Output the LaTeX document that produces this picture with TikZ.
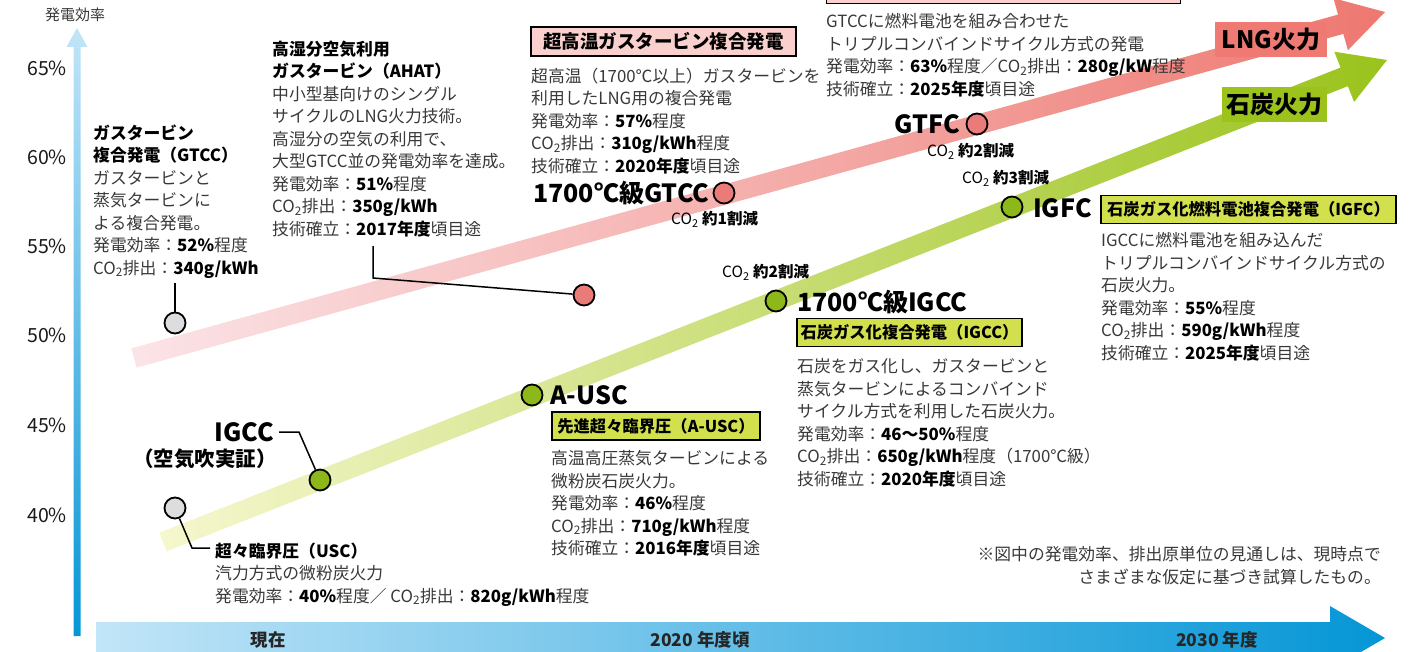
\documentclass[tikz,border=0pt]{standalone}
\usepackage{fontspec}
\setmainfont{Noto Sans CJK JP}
\definecolor{txt}{HTML}{383838}
\definecolor{lngL}{HTML}{FBE4E7}
\definecolor{lngR}{HTML}{EE7870}
\definecolor{coalL}{HTML}{F6F7CE}
\definecolor{coalR}{HTML}{9AC31C}
\definecolor{axL}{HTML}{C2E5F8}
\definecolor{axR}{HTML}{0596D6}
\definecolor{pinkbox}{HTML}{F9D0CD}
\definecolor{greenbox}{HTML}{D2E04E}
\definecolor{lngbox}{HTML}{EE7A73}
\definecolor{coalbox}{HTML}{9CC31B}
\definecolor{pinkdot}{HTML}{EB7B78}
\definecolor{greendot}{HTML}{8CB81A}
\definecolor{greydot}{HTML}{DCDDDE}
\newcommand{\bv}[1]{\textbf{\textcolor{black}{#1}}}
\newcommand{\COtwo}{CO\textsubscript{2}}
\begin{document}
\begin{tikzpicture}[x=1pt,y=-1pt,
  body/.style={font=\fontsize{16.8}{22.5}\selectfont, text=txt, align=left, inner sep=0pt, anchor=north west},
  ttl/.style={font=\bfseries\fontsize{25}{27}\selectfont, inner sep=0pt, text=black},
  co/.style={font=\fontsize{15.5}{17}\selectfont, inner sep=0pt, anchor=west, text=black},
  pbox/.style={draw=black, line width=1.3pt, fill=pinkbox, inner sep=0pt, minimum height=29pt, font=\bfseries\fontsize{18.5}{20}\selectfont},
  gbox/.style={draw=black, line width=1.3pt, fill=greenbox, inner sep=0pt, minimum height=28pt, font=\bfseries\fontsize{16.3}{18}\selectfont},
  dot/.style={circle, draw=black, line width=1.8pt, minimum size=21pt, inner sep=0pt},
  conn/.style={draw=black, line width=1.5pt},
  pct/.style={font=\fontsize{19.5}{21}\selectfont, inner sep=0pt, anchor=east, text=black!90},
  axlab/.style={font=\bfseries\fontsize{17.5}{19}\selectfont, inner sep=0pt, text=black!85},
  bandlab/.style={inner sep=0pt, minimum height=35pt, font=\bfseries\fontsize{24}{26}\selectfont, text=black}
]
\useasboundingbox (0,0) rectangle (1420,652);
\clip (0,0) rectangle (1420,652);

% axes
\shade[top color=axL, bottom color=axR] (73.5,636) -- (73.5,47) -- (66.5,47) -- (77,28) -- (87.5,47) -- (80.5,47) -- (80.5,636) -- cycle;
\shade[left color=axL, right color=axR] (96,622) -- (1330,622) -- (1330,606) -- (1385,638) -- (1330,670) -- (1330,654) -- (96,654) -- cycle;
\node[font=\fontsize{15}{17}\selectfont, text=txt, inner sep=0pt] (ylab) at (75,15) {発電効率};
\node[pct] (p65) at (67,68) {65\%};
\node[pct] (p60) at (67,157) {60\%};
\node[pct] (p55) at (67,246) {55\%};
\node[pct] (p50) at (67,335) {50\%};
\node[pct] (p45) at (67,425) {45\%};
\node[pct] (p40) at (67,515) {40\%};
\node[axlab] (x1) at (268,640) {現在};
\node[axlab] (x2) at (700,640) {2020 年度頃};
\node[axlab] (x3) at (1217,640) {2030 年度};

% bands
\shade[left color=lngL, right color=lngR] (131.33,348.36) -- (1338.0,14.62) -- (1333.47,-1.76) -- (1385,12) -- (1347.87,50.28) -- (1343.34,33.90) -- (136.67,367.64) -- cycle;
\shade[left color=coalL, right color=coalR] (159.34,532.70) -- (1340.54,67.55) -- (1334.31,51.73) -- (1387,60) -- (1354.09,101.97) -- (1347.86,86.16) -- (166.66,551.31) -- cycle;
\node[bandlab, fill=lngbox, minimum width=112pt] (lng) at (1271,39.5) {LNG火力};
\node[bandlab, fill=coalbox, minimum width=105pt] (coal) at (1274.5,104.5) {石炭火力};

% dots
\node[dot, fill=greydot] (c-gtcc) at (175,323) {};
\node[dot, fill=pinkdot] (c-ahat) at (584,295) {};
\node[dot, fill=pinkdot] (c-gtcc17) at (724,193) {};
\node[dot, fill=pinkdot] (c-gtfc) at (977,124) {};
\node[dot, fill=greydot] (c-usc) at (175,508) {};
\node[dot, fill=greendot] (c-igcc) at (320,480) {};
\node[dot, fill=greendot] (c-ausc) at (532,395) {};
\node[dot, fill=greendot] (c-igcc17) at (776,301) {};
\node[dot, fill=greendot] (c-igfc) at (1012,207) {};

% connectors
\coordinate (g1) at (175,283);
\draw[conn] (g1) -- (c-gtcc);
\coordinate (a1) at (373,246);
\coordinate (a2) at (373,278);
\draw[conn] (a1) -- (a2) -- (c-ahat);
\coordinate (u1) at (192,548);
\coordinate (u2) at (210,548);
\draw[conn] (c-usc) -- (u1) -- (u2);
\coordinate (i1) at (279,432);
\coordinate (i2) at (299,432);
\draw[conn] (i1) -- (i2) -- (c-igcc);

% GTCC
\node[body] (t-gtcc) at (93,124.5) {\bv{ガスタービン}\\\bv{複合発電（GTCC）}\\ガスタービンと\\蒸気タービンに\\よる複合発電。\\発電効率：\bv{52\%}程度\\\COtwo{}排出：\bv{340g/kWh}};
% AHAT
\node[body] (t-ahat) at (272,40.5) {\bv{高湿分空気利用}\\\bv{ガスタービン（AHAT）}\\中小型基向けのシングル\\サイクルのLNG火力技術。\\高湿分の空気の利用で、\\大型GTCC並の発電効率を達成。\\発電効率：\bv{51\%}程度\\\COtwo{}排出：\bv{350g/kWh}\\技術確立：\bv{2017年度}頃目途};
% ultra high temp GT
\node[pbox, minimum width=265pt] (b-uht) at (663.5,41.5) {超高温ガスタービン複合発電};
\node[body] (t-uht) at (531,67.5) {超高温（1700℃以上）ガスタービンを\\利用したLNG用の複合発電\\発電効率：\bv{57\%}程度\\\COtwo{}排出：\bv{310g/kWh}程度\\技術確立：\bv{2020年度}頃目途};
% GTFC
\node[pbox, minimum width=354pt, minimum height=40pt, anchor=south west] (b-gtfc) at (826,4) {};
\node[body] (t-gtfc) at (826,13.5) {GTCCに燃料電池を組み合わせた\\トリプルコンバインドサイクル方式の発電\\発電効率：\bv{63\%}程度／\COtwo{}排出：\bv{280g/kW}程度\\技術確立：\bv{2025年度}頃目途};
% IGFC
\node[gbox, minimum width=295pt] (b-igfc) at (1248.5,209.5) {石炭ガス化燃料電池複合発電（IGFC）};
\node[body] (t-igfc) at (1101,232.5) {IGCCに燃料電池を組み込んだ\\トリプルコンバインドサイクル方式の\\石炭火力。\\発電効率：\bv{55\%}程度\\\COtwo{}排出：\bv{590g/kWh}程度\\技術確立：\bv{2025年度}頃目途};
% IGCC 1700
\node[gbox, minimum width=225pt] (b-igcc) at (909.5,332.5) {石炭ガス化複合発電（IGCC）};
\node[body] (t-igcc) at (797,358.5) {石炭をガス化し、ガスタービンと\\蒸気タービンによるコンバインド\\サイクル方式を利用した石炭火力。\\発電効率：\bv{46〜50\%}程度\\\COtwo{}排出：\bv{650g/kWh}程度（1700℃級）\\技術確立：\bv{2020年度}頃目途};
% A-USC
\node[gbox, minimum width=208pt] (b-ausc) at (656,426) {先進超々臨界圧（A-USC）};
\node[body] (t-ausc) at (551,450.5) {高温高圧蒸気タービンによる\\微粉炭石炭火力。\\発電効率：\bv{46\%}程度\\\COtwo{}排出：\bv{710g/kWh}程度\\技術確立：\bv{2016年度}頃目途};
% USC
\node[body] (t-usc) at (215,542.5) {\bv{超々臨界圧（USC）}\\汽力方式の微粉炭火力\\発電効率：\bv{40\%}程度／ \COtwo{}排出：\bv{820g/kWh}程度};
% note
\node[body, anchor=north east, align=right] (note) at (1381,546.5) {※図中の発電効率、排出原単位の見通しは、現時点で\\さまざまな仮定に基づき試算したもの。};

% titles
\node[ttl, anchor=west] (l-gtcc17) at (533,193) {1700℃級GTCC};
\node[ttl, anchor=east] (l-gtfc) at (960,124) {GTFC};
\node[ttl, anchor=west] (l-igfc) at (1033,208) {IGFC};
\node[ttl, anchor=west] (l-igcc17) at (797,302) {1700℃級IGCC};
\node[ttl, anchor=west] (l-ausc) at (550,395) {A-USC};
\node[ttl, anchor=east] (l-igcc) at (274,432) {IGCC};
\node[font=\bfseries\fontsize{20.5}{22}\selectfont, anchor=east, inner sep=0pt] (l-kuki) at (277,459) {（空気吹実証）};

% reductions
\node[co] (r1) at (671,219) {\COtwo\ \textbf{約1割減}};
\node[co] (r2) at (927,151) {\COtwo\ \textbf{約2割減}};
\node[co] (r3) at (962,178) {\COtwo\ \textbf{約3割減}};
\node[co] (r4) at (722,272) {\COtwo\ \textbf{約2割減}};
\end{tikzpicture}
\end{document}
